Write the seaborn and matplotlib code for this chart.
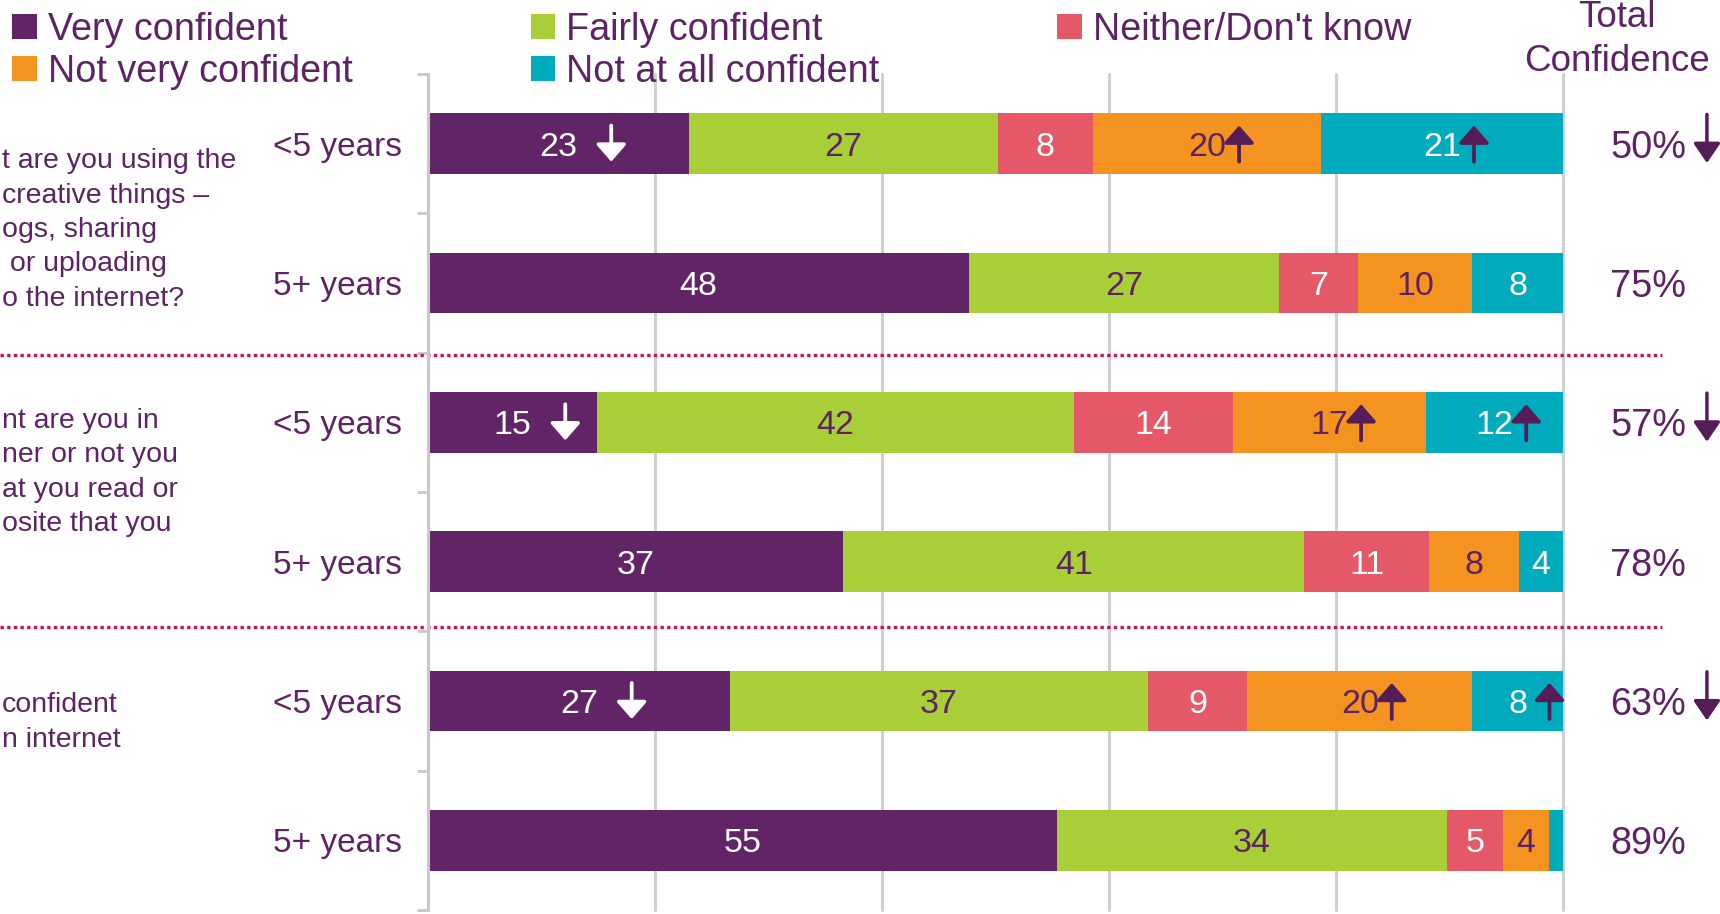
import numpy as np
import pandas as pd
import matplotlib
matplotlib.use("Agg")
import matplotlib.pyplot as plt
import matplotlib.transforms as mtransforms
from matplotlib.patches import Patch
import seaborn as sns

# ── Data ─────────────────────────────────────────────────────────────
ROW_KEYS   = ["q1_lt5", "q1_5plus", "q2_lt5", "q2_5plus", "q3_lt5", "q3_5plus"]
AGE_LABELS = ["<5 years", "5+ years", "<5 years", "5+ years", "<5 years", "5+ years"]

VERY       = [23.0, 47.7, 14.9, 36.6, 26.6, 55.4]
FAIRLY     = [27.2, 27.3, 42.0, 40.6, 36.8, 34.4]
NEITHER    = [8.4, 6.9, 14.0, 11.0, 8.8, 4.9]
NOT_VERY   = [20.1, 10.1, 17.0, 7.9, 19.8, 4.1]
NOT_AT_ALL = [21.3, 8.0, 12.1, 3.9, 8.0, 1.2]

TOTALS = [50, 75, 57, 78, 63, 89]

# significant change markers
SIG_VERY       = ["down", "", "down", "", "down", ""]
SIG_NOT_VERY   = ["up", "", "up", "", "up", ""]
SIG_NOT_AT_ALL = ["up", "", "up", "", "up", ""]
SIG_TOTAL      = ["down", "", "down", "", "down", ""]

QUESTIONS = [
    "t are you using the\ncreative things –\nogs, sharing\n or uploading\no the internet?",
    "nt are you in\nner or not you\nat you read or\nosite that you",
    "confident\nn internet",
]

SEGMENTS = ["Very confident", "Fairly confident", "Neither/Don't know",
            "Not very confident", "Not at all confident"]

# ── Style ────────────────────────────────────────────────────────────
COLORS = {
    "Very confident"      : "#612466",
    "Fairly confident"    : "#A8CE38",
    "Neither/Don't know"  : "#E55867",
    "Not very confident"  : "#F4931F",
    "Not at all confident": "#00ABBD",
}
TEXT   = "#5D2365"
ARROW  = "#561C57"
LABEL_COLORS = {
    "Very confident"      : "white",
    "Fairly confident"    : TEXT,
    "Neither/Don't know"  : "white",
    "Not very confident"  : TEXT,
    "Not at all confident": "white",
}
GRID = "#D0D0D0"

sns.set_theme(style="white")
plt.rcParams["font.family"] = ["Liberation Sans", "DejaVu Sans"]

df = pd.DataFrame({"row": ROW_KEYS, "Very confident": VERY, "Fairly confident": FAIRLY,
                   "Neither/Don't know": NEITHER, "Not very confident": NOT_VERY,
                   "Not at all confident": NOT_AT_ALL})
cum = df[SEGMENTS].cumsum(axis=1)
cum["row"] = df["row"]

fig = plt.figure(figsize=(17.2, 9.14), dpi=100)
ax = fig.add_axes([0.2488, 0.0044, 0.6599, 0.9147])

# stacked bars: draw cumulative totals from the right-most layer down
for seg in reversed(SEGMENTS):
    sns.barplot(data=cum, x=seg, y="row", order=ROW_KEYS, color=COLORS[seg],
                saturation=1, width=0.436, errorbar=None, linewidth=0,
                orient="h", ax=ax)

ax.set_xlim(0, 100)
ax.set_ylim(5.5, -0.5)
ax.set_xlabel("")
ax.set_ylabel("")
ax.set_xticks([20, 40, 60, 80, 100])
ax.tick_params(axis="x", length=0, labelbottom=False)
ax.grid(axis="x", color=GRID, linewidth=2.2)
ax.set_axisbelow(True)
for gl in ax.get_xgridlines():
    gl.set_clip_on(False)

ax.set_yticks(range(len(ROW_KEYS)))
ax.set_yticklabels(AGE_LABELS, fontsize=24, color=TEXT)
ax.set_yticks(np.arange(-0.5, len(ROW_KEYS), 1.0), minor=True)
ax.tick_params(axis="y", which="major", length=0, pad=18.5)
ax.tick_params(axis="y", which="minor", length=8, width=2, color="#C8C8C8", left=True)
for s in ["top", "right", "bottom"]:
    ax.spines[s].set_visible(False)
ax.spines["left"].set_color("#C8C8C8")
ax.spines["left"].set_linewidth(2.2)


def sig_arrow(x, y, direction, color, trans, length, head_len, head_w, lw, dx=0, dy=0):
    sign = 1 if direction == "up" else -1
    tip = mtransforms.offset_copy(trans, fig=fig, x=dx, y=dy + sign * length / 2, units="points")
    tail = mtransforms.offset_copy(trans, fig=fig, x=dx, y=dy - sign * length / 2, units="points")
    ax.annotate("", xy=(x, y), xycoords=tip, xytext=(x, y), textcoords=tail,
                arrowprops=dict(arrowstyle=f"-|>,head_length={head_len},head_width={head_w}",
                                color=color, lw=lw, shrinkA=0, shrinkB=0,
                                mutation_scale=1),
                annotation_clip=False)


# value labels + significance arrows inside bars
sig_map = {"Very confident": SIG_VERY, "Not very confident": SIG_NOT_VERY,
           "Not at all confident": SIG_NOT_AT_ALL}
for seg in SEGMENTS:
    for i in range(len(ROW_KEYS)):
        v = df[seg][i]
        centre = cum[seg][i] - v / 2
        if v >= 2:
            ax.text(centre, i, f"{round(v)}", ha="center", va="center_baseline",
                    fontsize=24.5, color=LABEL_COLORS[seg])
        sig = sig_map.get(seg, [""] * 6)[i]
        if sig:
            colr = "white" if seg == "Very confident" else ARROW
            off = 38 if sig == "down" else 23
            sig_arrow(centre, i, sig, colr, ax.transData, 26, 10.5, 9.2, 2.7, dx=off)

# total confidence column
side = mtransforms.blended_transform_factory(fig.transFigure, ax.transData)
for i, tot in enumerate(TOTALS):
    ax.text(0.9362, i, f"{tot}%", transform=side, ha="left", va="center_baseline",
            fontsize=27.3, color=TEXT)
    if SIG_TOTAL[i]:
        sig_arrow(0.9924, i, SIG_TOTAL[i], ARROW, side, 35, 12, 8.2, 2.5, dy=3.5)

fig.text(0.9401, 0.957, "Total\nConfidence", ha="center", va="center",
         fontsize=26.5, color=TEXT, linespacing=1.33)

# question text (cut off at the left edge)
for txt, yc in zip(QUESTIONS, [0.7484, 0.4830, 0.2095]):
    fig.text(0.001, yc, txt, ha="left", va="center", fontsize=20.5, color=TEXT,
             linespacing=1.42)

# dotted separators between the question groups
for yb in [1.52, 3.47]:
    ax.plot([0, 0.966], [yb, yb], transform=side, color="#D0104A", lw=2.4,
            linestyle=(0, (1, 1)), clip_on=False)

# legend
order = ["Very confident", "Not very confident", "Fairly confident",
         "Not at all confident", "Neither/Don't know"]
handles = [Patch(facecolor=COLORS[k], edgecolor="none") for k in order]
fig.legend(handles, order, ncol=3, loc="upper left", bbox_to_anchor=(0.005, 0.991),
           frameon=False, fontsize=27.2, labelcolor=TEXT, handlelength=0.65,
           handleheight=0.65, handletextpad=0.3, columnspacing=4.7,
           labelspacing=0.16, borderpad=0.1, borderaxespad=0.0)

plt.savefig("out.png", dpi=100)
plt.close()
